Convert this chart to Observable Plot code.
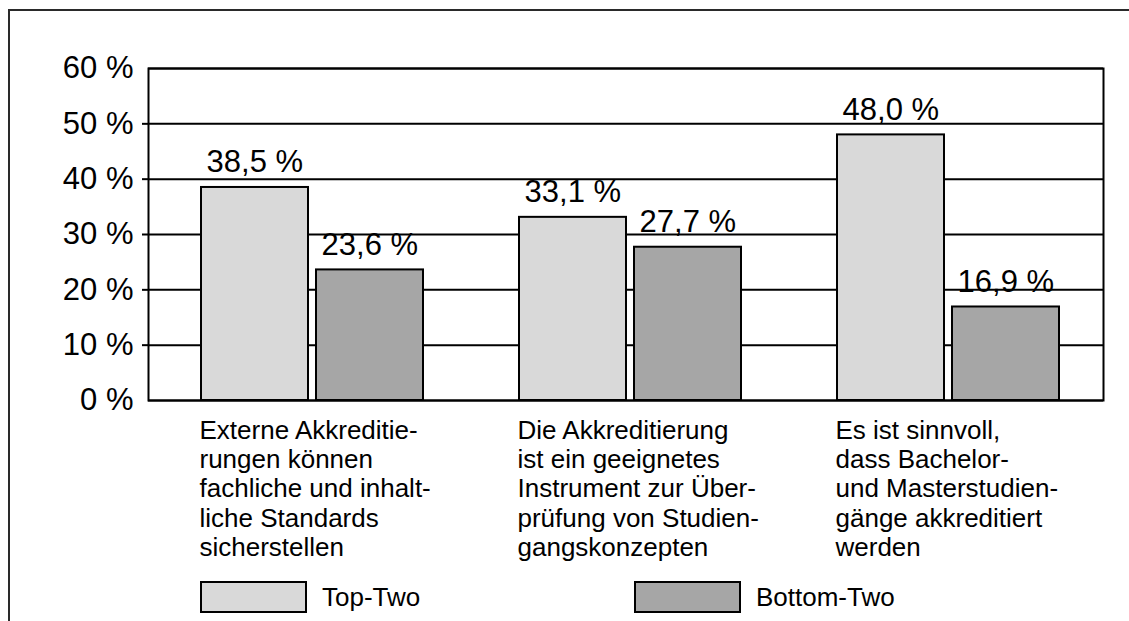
<!DOCTYPE html>
<html>
<head>
<meta charset="utf-8">
<script src="https://cdn.jsdelivr.net/npm/d3@7"></script>
<script src="https://cdn.jsdelivr.net/npm/@observablehq/plot@0.6"></script>
<style>
  html, body { margin: 0; padding: 0; background: #fff; overflow: hidden; width: 1129px; height: 621px; }
  body { font-family: "Liberation Sans", Arial, sans-serif; position: relative; }
  #border { position: absolute; left: 8px; top: 9px; width: 1300px; height: 800px; border: 2px solid #2a2a2a; box-sizing: border-box; }
  #chart { position: absolute; left: 0; top: 0; }
  #legend { position: absolute; left: 0; top: 581px; width: 1129px; height: 32px; font-size: 26px; color: #000; }
  .sw { position: absolute; top: 0; width: 107px; height: 32px; box-sizing: border-box; border: 2px solid #000; }
  .lb { position: absolute; top: 0; line-height: 32px; }
</style>
</head>
<body>
<div id="border"></div>
<div id="chart"></div>
<div id="legend"></div>
<script>
// ---- data ----
const categories = [
  "Externe Akkreditie-\nrungen können\nfachliche und inhalt-\nliche Standards\nsicherstellen",
  "Die Akkreditierung\nist ein geeignetes\nInstrument zur Über-\nprüfung von Studien-\ngangskonzepten",
  "Es ist sinnvoll,\ndass Bachelor-\nund Masterstudien-\ngänge akkreditiert\nwerden"
];
const series = ["Top-Two", "Bottom-Two"];
const topTwo = [38.5, 33.1, 48.0];
const bottomTwo = [23.6, 27.7, 16.9];
const yTicks = [0, 10, 20, 30, 40, 50, 60];
const yTickMarks = [10, 20, 30, 40, 50];

const colors = {"Top-Two": "#d9d9d9", "Bottom-Two": "#a6a6a6"};

const topRows = categories.map((c, i) => ({category: c, series: "Top-Two", value: topTwo[i]}));
const bottomRows = categories.map((c, i) => ({category: c, series: "Bottom-Two", value: bottomTwo[i]}));
const fmt = v => v.toFixed(1).replace(".", ",") + " %";

const chart = Plot.plot({
  width: 1129,
  height: 570,
  marginLeft: 148,
  marginRight: 26,
  marginTop: 68,
  marginBottom: 170,
  style: {fontFamily: "'Liberation Sans', Arial, sans-serif", fontSize: "26px", color: "#000", background: "transparent", overflow: "visible"},
  x: {domain: categories, padding: 0, label: null},
  y: {domain: [0, 60], label: null},
  marks: [
    Plot.ruleY(yTicks, {stroke: "#000", strokeWidth: 2}),
    Plot.frame({stroke: "#000", strokeWidth: 2}),
    Plot.barY(topRows, {x: "category", y: "value", fill: colors["Top-Two"], stroke: "#000", strokeWidth: 2, insetLeft: 52, insetRight: 159}),
    Plot.barY(bottomRows, {x: "category", y: "value", fill: colors["Bottom-Two"], stroke: "#000", strokeWidth: 2, insetLeft: 167, insetRight: 44}),
    Plot.text(topRows, {x: "category", y: "value", text: d => fmt(d.value), dx: -53.7, dy: -15, lineAnchor: "bottom", fontSize: 31, fill: "#000"}),
    Plot.text(bottomRows, {x: "category", y: "value", text: d => fmt(d.value), dx: 61.3, dy: -15, lineAnchor: "bottom", fontSize: 31, fill: "#000"}),
    Plot.axisY({ticks: yTicks, tickFormat: d => d + " %", tickSize: 0, tickPadding: 15, fontSize: 31, label: null}),
    Plot.axisY({ticks: yTickMarks, tickFormat: null, text: null, tickSize: 6, strokeWidth: 2, stroke: "#000", label: null}),
    Plot.axisX({tickSize: 0, tickPadding: 18, textAnchor: "start", dx: -109, lineAnchor: "top", lineHeight: 1.12, fontSize: 26, label: null})
  ]
});
document.getElementById("chart").appendChild(chart);

// ---- legend (HTML, below the SVG area) ----
const legend = document.getElementById("legend");
const legendPos = {"Top-Two": 200, "Bottom-Two": 634};
series.forEach(s => {
  const sw = document.createElement("div");
  sw.className = "sw";
  sw.style.left = legendPos[s] + "px";
  sw.style.background = colors[s];
  legend.appendChild(sw);
  const lb = document.createElement("div");
  lb.className = "lb";
  lb.style.left = (legendPos[s] + 122) + "px";
  lb.textContent = s;
  legend.appendChild(lb);
});
</script>
</body>
</html>
